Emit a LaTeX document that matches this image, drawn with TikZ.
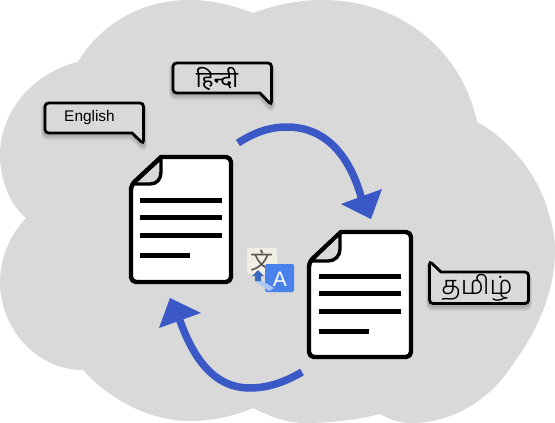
\documentclass[tikz,border=0pt]{standalone}
\usepackage{fontspec}
\setmainfont{Liberation Sans}
\newfontfamily\devfont[Script=Devanagari]{Noto Sans}
\newfontfamily\tamfont[Script=Tamil]{Hind Madurai Light}
\newfontfamily\cjkfont{Noto Sans CJK SC}
\definecolor{cloudgray}{HTML}{D9D9D9}
\definecolor{arrowblue}{HTML}{3A59C7}
\definecolor{iconpaper}{HTML}{F1EEE4}
\definecolor{iconblue}{HTML}{4A82EC}
\definecolor{iconink}{HTML}{5A5752}
\tikzset{
  docpage/.style={draw=black,fill=white,line width=4.4pt,line join=round},
  docfold/.style={draw=black,fill=cloudgray,line width=3.4pt,line join=round},
  docline/.style={draw=black,line width=5pt},
  bubble/.style={draw=black,fill=cloudgray,line width=2.8pt,line join=miter,rounded corners=3.5pt},
  bubbleshadow/.style={draw=black,draw opacity=.045,line join=round,rounded corners=3.5pt},
  flowstem/.style={draw=arrowblue,line width=7.5pt},
  flowhead/.style={fill=arrowblue},
  bubbletext/.style={inner sep=0pt,text=black}
}
\begin{document}
\begin{tikzpicture}[x=1pt,y=-1pt]
\useasboundingbox (0,0) rectangle (555,423);
% cloud
\fill[cloudgray] (78,62) .. controls (35,72) and (0,110) .. (0,155)
  .. controls (0,180) and (10,205) .. (26,218)
  .. controls (10,235) and (0,258) .. (0,282)
  .. controls (0,330) and (38,370) .. (83,370)
  .. controls (110,400) and (150,421) .. (190,421)
  .. controls (212,421) and (235,416) .. (253,408)
  .. controls (275,419) and (290,423) .. (305,423)
  .. controls (330,423) and (357,420) .. (380,414)
  .. controls (390,420) and (400,423) .. (412,423)
  .. controls (450,423) and (490,402) .. (515,361)
  .. controls (538,330) and (555,290) .. (555,251)
  .. controls (555,236) and (552,224) .. (548,211)
  .. controls (538,175) and (510,140) .. (477,122)
  .. controls (462,50) and (400,0) .. (322,0)
  .. controls (298,0) and (275,5) .. (253,13)
  .. controls (232,5) and (212,0) .. (190,0)
  .. controls (140,0) and (100,25) .. (78,62) -- cycle;
% bubbles
\foreach \o/\w in {4/6,3.5/5,3/4,2.5/3,2/2}{
  \draw[bubbleshadow,line width=\w pt,yshift=-\o pt]
    (44,102) -- (144,102) -- (144,145) [sharp corners] -- (132,133) [rounded corners=3.5pt] -- (44,133) -- cycle;
  \draw[bubbleshadow,line width=\w pt,yshift=-\o pt]
    (172,62) -- (272,62) -- (272,106) [sharp corners] -- (260,93) [rounded corners=3.5pt] -- (172,93) -- cycle;
  \draw[bubbleshadow,line width=\w pt,yshift=-\o pt]
    (429,260) [sharp corners] -- (441,272) [rounded corners=3.5pt] -- (529,272) -- (529,304) -- (429,304) -- cycle;
}
\draw[bubble] (45,103) -- (143.5,103) -- (143.5,144) [sharp corners] -- (132,133) [rounded corners=3.5pt] -- (45,133) -- cycle;
\node[bubbletext,font=\fontsize{15.4}{17}\selectfont] (english) at (89.5,118) {English};
\draw[bubble] (173,63) -- (271.5,63) -- (271.5,105) [sharp corners] -- (260,93) [rounded corners=3.5pt] -- (173,93) -- cycle;
\node[bubbletext,font=\devfont\fontsize{22.5}{24}\selectfont] (hindi) at (217,79) {हिन्दी};
\draw[bubble] (429.5,261) [sharp corners] -- (441,272) [rounded corners=3.5pt] -- (528.5,272) -- (528.5,303.5) -- (429.5,303.5) -- cycle;
\node[bubbletext,font=\tamfont\fontsize{26}{28}\selectfont] (tamil) at (477,288) {தமிழ்};
% document 1
\draw[docpage,rounded corners=5pt] (131,185) [sharp corners] -- (161,157) [rounded corners=5pt] -- (231,157) -- (231,282) -- (131,282) -- cycle;
\draw[docfold] (133,184) -- (150,184) .. controls (157,184) and (161,179) .. (161,172) -- (161,158) -- cycle;
\draw[docline] (140,200) -- (222,200);
\draw[docline] (140,217) -- (222,217);
\draw[docline] (140,235) -- (222,235);
\draw[docline] (140,255) -- (190,255);
% document 2
\draw[docpage,rounded corners=5pt] (309,262) [sharp corners] -- (341,232) [rounded corners=5pt] -- (411,232) -- (411,357) -- (309,357) -- cycle;
\draw[docfold] (311,261) -- (328,261) .. controls (335,261) and (340,256) .. (340,249) -- (340,233) -- cycle;
\draw[docline] (319,276) -- (401,276);
\draw[docline] (319,293) -- (401,293);
\draw[docline] (319,311) -- (401,311);
\draw[docline] (319,331) -- (369,331);
% arrows
\draw[flowstem] (238,143) .. controls (255,132) and (270,127) .. (287,127) .. controls (325,127) and (350,155) .. (362,200);
\fill[flowhead] (382,189) -- (341,204) -- (371,219) -- cycle;
\draw[flowstem] (302,372) .. controls (285,382) and (268,388) .. (250,388) .. controls (212,388) and (192,355) .. (179,318);
\fill[flowhead] (170,298) -- (201,313) -- (159,328) -- cycle;
% translate icon
\fill[iconpaper,rounded corners=2pt] (247,248) rectangle (277,274);
\node[inner sep=0pt,text=iconink,font=\cjkfont\fontsize{23}{25}\selectfont] (wen) at (262,261) {文};
\fill[iconblue,rounded corners=2pt] (265,264) rectangle (294,292);
\fill[iconblue!45!white] (255,281) -- (262,281) -- (274,288) -- (269,291) -- cycle;
\fill[iconblue!80!black] (252,276) -- (258,270) -- (264,276) -- (261,276) -- (261,281) -- (255,281) -- (255,276) -- cycle;
\node[inner sep=0pt,text=white,font=\fontsize{21}{23}\selectfont] (alat) at (280,279) {A};
\end{tikzpicture}
\end{document}
